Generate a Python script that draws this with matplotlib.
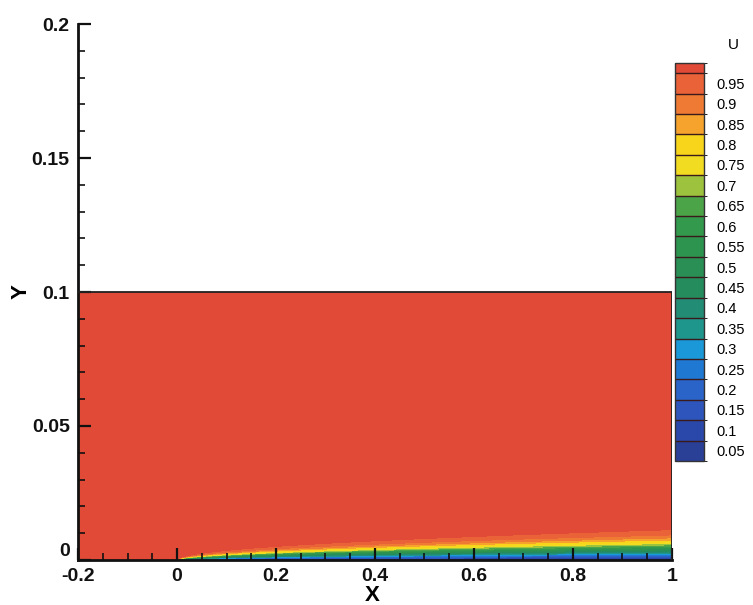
import numpy as np
import matplotlib
matplotlib.use("Agg")
import matplotlib.pyplot as plt
from matplotlib.colors import ListedColormap, BoundaryNorm
from matplotlib.cm import ScalarMappable

plt.rcParams['font.family'] = ['Liberation Sans', 'DejaVu Sans']

# Blasius similarity profile (eta, u/U)
eta_tab = [0.0, 0.4, 0.8, 1.2, 1.6, 2.0, 2.4, 2.8, 3.2, 3.6, 4.0, 4.4, 4.8, 5.2, 5.6, 6.0, 7.0, 50.0]
u_tab = [0.0, 0.1328, 0.2647, 0.3938, 0.5168, 0.6298, 0.7290, 0.8115, 0.8761, 0.9233,
         0.9555, 0.9759, 0.9878, 0.9943, 0.9975, 0.9990, 1.0, 1.0]
reynolds = 1.5e5
plate_start = 0.0

# domain
x_range = [-0.2, 1.0]
y_range = [0.0, 0.1]

# legend levels and band colours (bottom to top)
level_labels = [0.05, 0.1, 0.15, 0.2, 0.25, 0.3, 0.35, 0.4, 0.45, 0.5,
                0.55, 0.6, 0.65, 0.7, 0.75, 0.8, 0.85, 0.9, 0.95]
band_colors = ['#2a3f96', '#2a48aa', '#2d55bb', '#2a64c8', '#1f78d2', '#1a98d8',
               '#1f968c', '#238c74', '#258c5e', '#298f55', '#2d9450', '#33994c',
               '#4ba448', '#9cc23e', '#f2dc22', '#f8d41a', '#f5a32c', '#ee7a34',
               '#ea6238', '#e04a37']

bounds = [lv - 0.025 for lv in level_labels] + [0.975, 1.0]
cmap = ListedColormap(band_colors)
cmap.set_under(band_colors[0])
cmap.set_over(band_colors[-1])
norm = BoundaryNorm(bounds, len(band_colors))

# field
x = np.linspace(x_range[0], x_range[1], 700)
y = np.concatenate([np.linspace(0, 0.02, 500), np.linspace(0.02, 0.1, 60)[1:]])
X, Y = np.meshgrid(x, y)
xs = np.clip(X - plate_start, 1e-9, None)
eta = Y * np.sqrt(reynolds / xs)
U = np.interp(eta, eta_tab, u_tab)
U[X <= plate_start] = 1.0

fig = plt.figure(figsize=(7.53, 6.05), dpi=100)
ax = fig.add_axes([0.1036, 0.0744, 0.7888, 0.8859])

ax.contourf(X, Y, U, levels=bounds, cmap=cmap, norm=norm, extend='both')
ax.plot([x_range[0], x_range[1], x_range[1]], [y_range[1], y_range[1], y_range[0]],
        color='#222222', lw=1.3, zorder=3)

ax.set_xlim(-0.2, 1.0)
ax.set_ylim(0, 0.2)
ax.set_xticks(np.arange(-0.2, 1.01, 0.2))
ax.set_xticks(np.arange(-0.2, 1.01, 0.05), minor=True)
ax.set_yticks(np.arange(0, 0.201, 0.05))
ax.set_yticks(np.arange(0, 0.201, 0.01), minor=True)
ax.set_xticklabels(['-0.2', '0', '0.2', '0.4', '0.6', '0.8', '1'])
ax.set_yticklabels(['0', '0.05', '0.1', '0.15', '0.2'])

for s in ['top', 'right']:
    ax.spines[s].set_visible(False)
for s in ['left', 'bottom']:
    ax.spines[s].set_linewidth(2.0)
    ax.spines[s].set_color('#111111')

ax.tick_params(which='major', direction='in', length=9, width=1.6, colors='#111111',
               labelsize=14, pad=6)
ax.tick_params(which='minor', direction='in', length=5, width=1.2, colors='#111111')
for lab in ax.get_xticklabels() + ax.get_yticklabels():
    lab.set_fontweight('bold')
# the y "0" sits just above the x axis line
ax.get_yticklabels()[0].set_va('bottom')

ax.set_xlabel('X', fontsize=16, fontweight='bold')
ax.xaxis.set_label_coords(0.495, -0.067)
ax.xaxis.label.set_va('center')
ax.set_ylabel('Y', fontsize=16, fontweight='bold')
ax.yaxis.set_label_coords(-0.096, 0.5)
ax.yaxis.label.set_va('center')

# legend
cax = fig.add_axes([0.8964, 0.238, 0.0385, 0.658])
sm = ScalarMappable(norm=norm, cmap=cmap)
cb = fig.colorbar(sm, cax=cax, spacing='proportional', ticks=level_labels, drawedges=True)
cb.ax.set_ylim(bounds[0], bounds[-1])
cb.set_ticklabels(['%g' % v for v in level_labels])
cb.ax.tick_params(length=0, labelsize=10.5, pad=9)
cb.outline.set_linewidth(1.0)
cb.outline.set_color('#333333')
cb.dividers.set_color('#3a1a1a')
cb.dividers.set_linewidth(1.0)
fig.text(733 / 753, 1 - 45 / 605, 'U', fontsize=11, ha='center', va='center')

fig.savefig('out.png', dpi=100)
